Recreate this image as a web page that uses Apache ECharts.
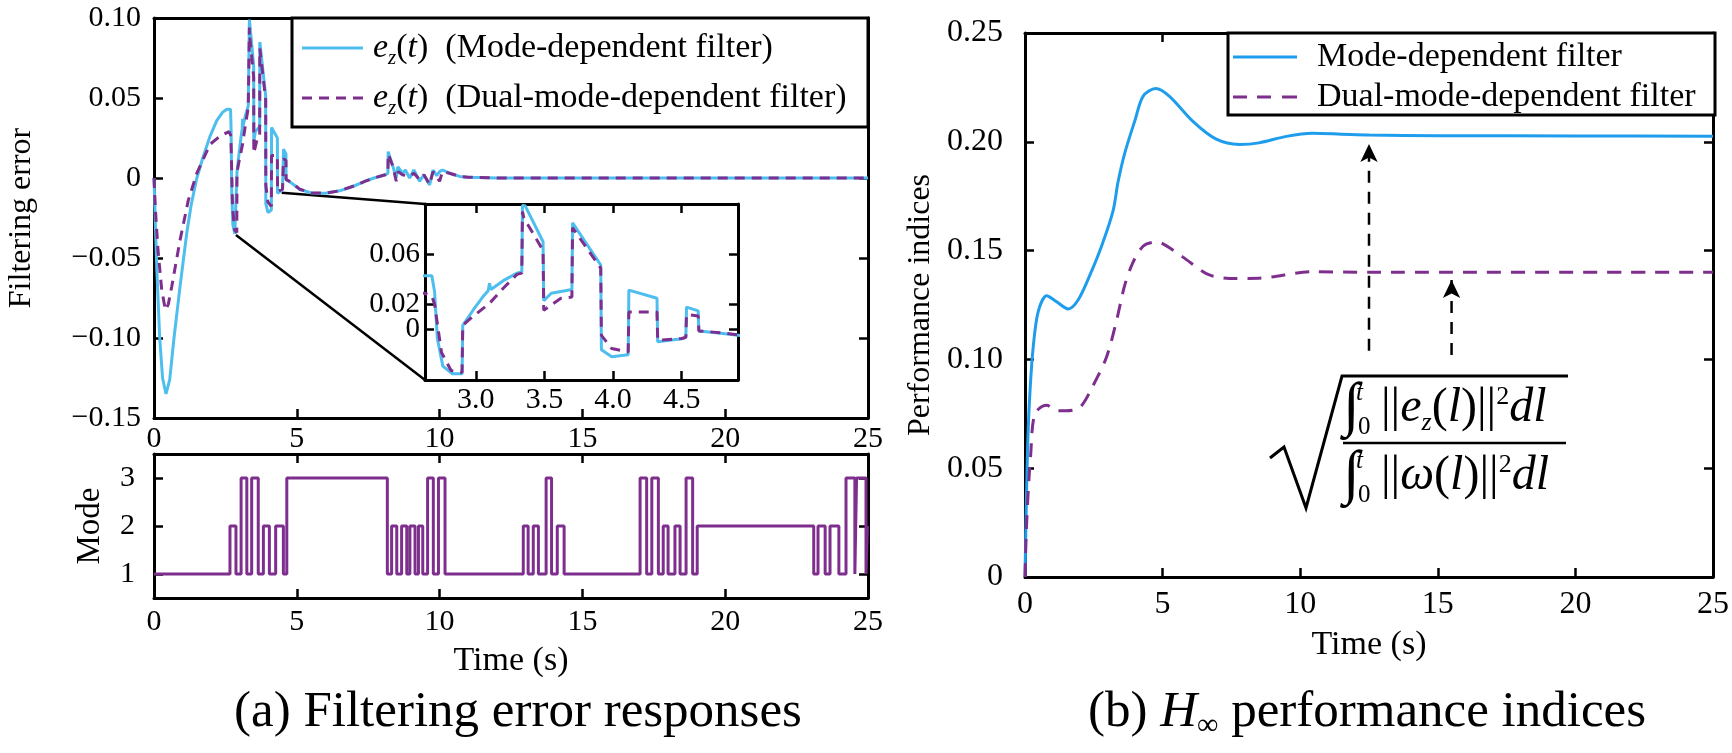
<!DOCTYPE html>
<html><head><meta charset="utf-8">
<script src="https://cdn.jsdelivr.net/npm/echarts@6/dist/echarts.min.js"></script>
<style>html,body{margin:0;padding:0;background:#fff}#c{width:1732px;height:753px}</style>
</head><body><div id="c"></div>
<script>
// ---------------- data ----------------
const timeTicks = [0, 5, 10, 15, 20, 25];
const modeTicks = [1, 2, 3];
const insetTicksX = [3.0, 3.5, 4.0, 4.5];
const insetTicksY = [0, 0.02, 0.06];

// e_z(t) with mode-dependent filter  [t, e]
const modeDepError = [[0,0],[0.05,-0.03],[0.1,-0.058],[0.2,-0.1],[0.3,-0.125],[0.42,-0.135],[0.55,-0.126],[0.7,-0.1],[0.91,-0.068],[1.15,-0.034],[1.3,-0.017],[1.5,0],[1.7,0.012],[1.96,0.026],[2.2,0.036],[2.4,0.041],[2.55,0.043],[2.68,0.043],[2.7,0.03],[2.72,-0.007],[2.76,-0.029],[2.83,-0.035],[2.9,-0.035],[2.905,0.0035],[2.98,0.0155],[3.05,0.026],[3.09,0.031],[3.1,0.037],[3.11,0.032],[3.2,0.039],[3.3,0.045],[3.335,0.046],[3.34,0.099],[3.36,0.0985],[3.49,0.070],[3.495,0.023],[3.55,0.029],[3.70,0.032],[3.705,0.085],[3.91,0.0515],[3.915,-0.016],[3.99,-0.0215],[4.11,-0.02],[4.115,0.0315],[4.32,0.025],[4.325,-0.0096],[4.5,-0.0072],[4.53,-0.006],[4.535,0.018],[4.62,0.015],[4.625,-0.001],[4.8,-0.003],[5.1,-0.007],[5.5,-0.0093],[6.0,-0.0095],[6.5,-0.008],[7.0,-0.005],[7.4,-0.002],[7.7,0.0],[8.1,0.002],[8.19,0.003],[8.2,0.0165],[8.37,0.007],[8.48,0.0],[8.54,0.007],[8.7,0.003],[8.8,0.005],[8.95,0.0],[9.1,0.005],[9.3,-0.002],[9.45,0.002],[9.65,-0.0044],[9.77,0.005],[9.9,0.0015],[10.0,0.004],[10.1,0.005],[10.35,0.003],[10.7,0.001],[11,0.0005],[12,0],[25,0]];

// e_z(t) with dual-mode-dependent filter  [t, e]
const dualModeError = [[0,0],[0.05,-0.02],[0.14,-0.045],[0.27,-0.07],[0.4,-0.0825],[0.5,-0.079],[0.62,-0.068],[0.91,-0.039],[1.2,-0.014],[1.5,0.003],[1.96,0.021],[2.3,0.026],[2.625,0.029],[2.68,0.027],[2.7,0.02],[2.75,-0.018],[2.82,-0.0325],[2.9,-0.034],[2.905,0.0035],[2.96,0.0088],[3.1,0.021],[3.2,0.033],[3.3,0.044],[3.335,0.045],[3.34,0.094],[3.35,0.089],[3.49,0.063],[3.495,0.0155],[3.62,0.025],[3.70,0.026],[3.705,0.081],[3.91,0.049],[3.915,-0.0045],[3.99,-0.015],[4.11,-0.0177],[4.115,0.014],[4.32,0.014],[4.325,-0.0085],[4.5,-0.007],[4.53,-0.006],[4.535,0.012],[4.62,0.011],[4.625,-0.001],[4.8,-0.0025],[5.1,-0.007],[5.5,-0.0093],[6.0,-0.0095],[6.5,-0.008],[7.0,-0.005],[7.4,-0.002],[7.7,0.0],[8.1,0.002],[8.19,0.003],[8.2,0.015],[8.37,0.007],[8.48,-0.002],[8.55,0.004],[8.7,0.002],[8.95,0.001],[9.1,0.003],[9.3,-0.001],[9.45,0.002],[9.65,-0.004],[9.77,0.004],[9.9,0.001],[10.0,-0.002],[10.1,0.004],[10.35,0.003],[10.7,0.001],[11,0.0005],[12,0],[25,0]];

// Markov mode signal: [switch time, mode]
const modeSignal = [[0,1],[2.66,2],[2.87,1],[3.05,3],[3.25,1],[3.42,3],[3.65,1],[3.83,2],[4.04,1],[4.26,2],[4.53,1],[4.65,3],[8.17,1],[8.32,2],[8.5,1],[8.67,2],[8.85,1],[8.96,2],[9.14,1],[9.26,2],[9.41,1],[9.58,3],[9.78,1],[9.96,3],[10.19,1],[12.93,2],[13.1,1],[13.28,2],[13.46,1],[13.73,3],[13.92,1],[14.12,2],[14.36,1],[17.02,3],[17.25,1],[17.43,3],[17.66,1],[17.83,2],[18.0,1],[18.24,2],[18.42,1],[18.63,3],[18.86,1],[19.02,2],[23.1,1],[23.25,2],[23.5,1],[23.67,2],[23.98,1],[24.23,3],[24.54,1],[24.6,3],[24.93,1],[24.98,2],[25,2]];

// H-infinity performance indices [t, value]
const modeDepIndex = [[0,0],[0.05,0.035],[0.1,0.062],[0.18,0.085],[0.3,0.106],[0.48,0.122],[0.79,0.1293],[1.15,0.1265],[1.57,0.1232],[1.93,0.1273],[2.36,0.1388],[2.78,0.152],[3.2,0.1683],[3.38,0.1815],[3.62,0.1946],[4.0,0.21],[4.29,0.2209],[4.75,0.2245],[5.25,0.2209],[6.1,0.2094],[6.95,0.2012],[7.79,0.1988],[8.5,0.1995],[9.5,0.2025],[10.45,0.2039],[11.5,0.2035],[12.5,0.2031],[15,0.2028],[20,0.2027],[25,0.2026]];
const dualModeIndex = [[0,0],[0.05,0.022],[0.12,0.04],[0.2,0.055],[0.36,0.075],[0.79,0.0789],[1.15,0.0765],[1.51,0.0764],[2.0,0.078],[2.47,0.0879],[2.96,0.101],[3.32,0.1175],[3.62,0.1339],[3.92,0.1445],[4.29,0.152],[4.7,0.1538],[5.0,0.1532],[5.74,0.147],[6.7,0.1388],[7.67,0.1372],[8.5,0.1373],[10.45,0.1403],[12.5,0.140],[25,0.140]];

// annotation lines (data units of their own plots)
const zoomConnectors = [[[2.87,-0.0356],[9.49,-0.12625]], [[4.47,-0.0092],[9.49,-0.01625]]];
const arrowGuides = [[[12.5,0.104],[12.5,0.199]], [[15.5,0.102],[15.5,0.1365]]];

// ---------------- chart ----------------
const FONT = '"Liberation Serif", "Times New Roman", Times, serif';
const BLUE_A = '#4DBEEE', PURPLE = '#7E2F8E', BLUE_B = '#1F9DED';
function fmt(v, d) { if (Math.abs(v) < 1e-9) return '0'; return (v < 0 ? '\u2212' : '') + Math.abs(v).toFixed(d); }

function axis(o) {
  const a = {
    type: 'value', gridIndex: o.grid, position: o.pos, min: o.min, max: o.max,
    axisLine: { show: o.line !== false, onZero: false, lineStyle: { color: '#000', width: 3 } },
    axisTick: { show: o.tick !== false, inside: true, length: 9, lineStyle: { color: '#000', width: 2.5 } },
    axisLabel: { show: !!o.label, color: '#000', fontFamily: FONT, fontSize: o.fs || 30, margin: o.margin || 8,
                 formatter: o.formatter, hideOverlap: false, showMinLabel: true, showMaxLabel: true },
    splitLine: { show: false }
  };
  if (o.interval !== undefined) a.interval = o.interval;
  if (o.custom) { a.axisTick.customValues = o.custom; a.axisLabel.customValues = o.labels || o.custom; }
  if (o.name) {
    a.name = o.name; a.nameLocation = 'middle'; a.nameGap = o.nameGap;
    a.nameTextStyle = { color: '#000', fontFamily: FONT, fontSize: o.nameSize || 32 };
  }
  return a;
}

const xAxes = [
  axis({grid:0,pos:'bottom',min:0,max:25,interval:5,label:true,fs:30,margin:6,formatter:v=>String(v)}),
  axis({grid:0,pos:'top',min:0,max:25,interval:5}),
  axis({grid:1,pos:'bottom',min:0,max:25,interval:5,label:true,fs:30,margin:9,formatter:v=>String(v),name:'Time (s)',nameGap:46,nameSize:34}),
  axis({grid:1,pos:'top',min:0,max:25,interval:5}),
  axis({grid:2,pos:'bottom',min:0,max:25,interval:5,label:true,fs:32,margin:12,formatter:v=>String(v),name:'Time (s)',nameGap:51,nameSize:34}),
  axis({grid:2,pos:'top',min:0,max:25,interval:5}),
  axis({grid:3,pos:'bottom',min:2.63,max:4.91,custom:insetTicksX,label:true,fs:30,margin:5,formatter:v=>v.toFixed(1)}),
  axis({grid:3,pos:'top',min:2.63,max:4.91,custom:insetTicksX})
];
const yAxes = [
  axis({grid:0,pos:'left',min:-0.15,max:0.10,interval:0.05,label:true,fs:30,margin:13,formatter:v=>fmt(v,2),name:'Filtering error',nameGap:116}),
  axis({grid:0,pos:'right',min:-0.15,max:0.10,interval:0.05}),
  axis({grid:1,pos:'left',min:0.5,max:3.5,custom:modeTicks,label:true,fs:30,margin:19,formatter:v=>String(Math.round(v)),name:'Mode',nameGap:47,nameSize:33}),
  axis({grid:1,pos:'right',min:0.5,max:3.5,custom:modeTicks}),
  axis({grid:2,pos:'left',min:0,max:0.25,interval:0.05,label:true,fs:32,margin:22,formatter:v=>fmt(v,2),name:'Performance indices',nameGap:88}),
  axis({grid:2,pos:'right',min:0,max:0.25,interval:0.05}),
  axis({grid:3,pos:'left',min:-0.04,max:0.10,custom:insetTicksY,labels:[insetTicksY[0],insetTicksY[2]],label:true,fs:29,margin:5,formatter:v=>fmt(v,2)}),
  axis({grid:3,pos:'right',min:-0.04,max:0.10,custom:insetTicksY}),
  // second label layer for the inset so that the tightly packed 0.02 label is kept
  axis({grid:3,pos:'left',min:-0.04,max:0.10,custom:[insetTicksY[1]],line:false,tick:false,label:true,fs:29,margin:5,formatter:v=>fmt(v,2)})
];

function lineSeries(name, xi, data, color, width, dash, z) {
  return { name, type: 'line', xAxisIndex: xi, yAxisIndex: xi, data, symbol: 'none', showSymbol: false,
           lineStyle: { color, width, type: dash || 'solid' }, itemStyle: { color }, z: z || 2, silent: true, animation: false };
}
function arrowSeries(seg) {
  return { type: 'line', xAxisIndex: 4, yAxisIndex: 4, symbol: 'arrow', showSymbol: true, silent: true,
           data: [{ value: seg[0], symbol: 'none' }, { value: seg[1], symbol: 'arrow', symbolSize: [13, 18] }],
           lineStyle: { color: '#000', width: 2.5, type: [12, 9] }, itemStyle: { color: '#000' }, z: 5 };
}

const series = [
  lineSeries('e_md', 0, modeDepError, BLUE_A, 3, null, 3),
  lineSeries('e_dual', 0, dualModeError, PURPLE, 3, [10, 7], 4),
  lineSeries('conn1', 0, zoomConnectors[0], '#000', 2.5, null, 2),
  lineSeries('conn2', 0, zoomConnectors[1], '#000', 2.5, null, 2),
  lineSeries('e_md', 6, modeDepError, BLUE_A, 3, null, 6),
  lineSeries('e_dual', 6, dualModeError, PURPLE, 3, [10, 7], 7),
  Object.assign(lineSeries('mode', 2, modeSignal, PURPLE, 3, null, 3), { step: 'end' }),
  Object.assign(lineSeries('Mode-dependent filter', 4, modeDepIndex, BLUE_B, 3, null, 3), { smooth: 0.3 }),
  Object.assign(lineSeries('Dual-mode-dependent filter', 4, dualModeIndex, PURPLE, 3, [14, 10], 4), { smooth: 0.3 }),
  arrowSeries(arrowGuides[0]),
  arrowSeries(arrowGuides[1])
];

const richLeft = {
  g: { width: 5 },
  i: { fontFamily: FONT, fontStyle: 'italic', fontSize: 34, lineHeight: 50, color: '#000' },
  n: { fontFamily: FONT, fontSize: 34, lineHeight: 50, color: '#000' },
  s: { fontFamily: FONT, fontStyle: 'italic', fontSize: 21, color: '#000', padding: [20, 0, 0, 0] }
};

const legends = [
  { data: [
      { name: 'e_md', icon: 'path://M0,0H61V3H0Z' },
      { name: 'e_dual', icon: 'path://M0,0H10V3H0Z M17,0H27V3H17Z M34,0H44V3H34Z M51,0H61V3H51Z' }
    ],
    orient: 'vertical', left: 302, top: 23, itemWidth: 61, itemHeight: 3, itemGap: 0,
    padding: 0, selectedMode: false, z: 10, itemStyle: { borderWidth: 0 },
    formatter: n => n === 'e_md'
      ? '{g| }{i|e}{s|z}{n|(}{i|t}{n|)  (Mode-dependent filter)}'
      : '{g| }{i|e}{s|z}{n|(}{i|t}{n|)  (Dual-mode-dependent filter)}',
    textStyle: { fontFamily: FONT, fontSize: 34, lineHeight: 50, color: '#000', rich: richLeft } },
  { data: [
      { name: 'Mode-dependent filter', icon: 'path://M0,0H64V3H0Z' },
      { name: 'Dual-mode-dependent filter', icon: 'path://M0,0H14V3H0Z M24,0H38V3H24Z M49,0H64V3H49Z' }
    ],
    orient: 'vertical', left: 1233, top: 37,
    itemWidth: 64, itemHeight: 3, itemGap: 0, padding: 0, selectedMode: false, z: 10, itemStyle: { borderWidth: 0 },
    formatter: n => '{g| }' + n,
    textStyle: { fontFamily: FONT, fontSize: 34, lineHeight: 40, color: '#000', rich: { g: { width: 15 } } } }
];

// formula, boxes and captions (annotation graphics)
function txt(x, y, text, size, italic, align, rich) {
  return { type: 'text', x, y, z: 20, silent: true,
    style: { text, fill: '#000', font: (italic ? 'italic ' : '') + size + 'px ' + FONT,
             textAlign: align || 'left', textVerticalAlign: 'middle', align: align || 'left', verticalAlign: 'middle', rich } };
}
const fRich = {
  n: { fontFamily: FONT, fontSize: 48, lineHeight: 58, color: '#000' },
  i: { fontFamily: FONT, fontStyle: 'italic', fontSize: 48, lineHeight: 58, color: '#000' },
  sb: { fontFamily: FONT, fontStyle: 'italic', fontSize: 26, color: '#000', padding: [30, 0, 0, 0] },
  sp: { fontFamily: FONT, fontSize: 26, color: '#000', padding: [0, 0, 22, 0] }
};
const numY = 408, denY = 476;
const graphics = [
  { type: 'rect', z: 9, silent: true, shape: { x: 292, y: 18, width: 576, height: 109 }, style: { fill: '#fff', stroke: '#000', lineWidth: 3 } },
  { type: 'rect', z: 9, silent: true, shape: { x: 1228, y: 33, width: 487, height: 82 }, style: { fill: '#fff', stroke: '#000', lineWidth: 3 } },
  // radical and fraction bar
  { type: 'polyline', z: 20, silent: true, shape: { points: [[1270,458],[1284,447],[1306,508],[1342,376],[1568,376]] }, style: { stroke: '#000', lineWidth: 3, fill: null } },
  { type: 'line', z: 20, silent: true, shape: { x1: 1343, y1: 443, x2: 1566, y2: 443 }, style: { stroke: '#000', lineWidth: 2.5 } },
  txt(1343, numY, '\u222B', 60, false),
  txt(1356, numY - 15, 't', 25, true),
  txt(1358, numY + 19, '0', 25, false),
  txt(1381, numY, '{n|||}{i|e}{sb|z}{n|(}{i|l}{n|)||}{sp|2}{i|dl}', 48, false, 'left', fRich),
  txt(1343, denY, '\u222B', 60, false),
  txt(1356, denY - 15, 't', 25, true),
  txt(1358, denY + 19, '0', 25, false),
  txt(1381, denY, '{n|||}{i|\u03C9}{n|(}{i|l}{n|)||}{sp|2}{i|dl}', 48, false, 'left', fRich),
  // sub-figure captions
  txt(518, 713, '(a) Filtering error responses', 51, false, 'center'),
  txt(1367, 713, '(b) {i|H}{s|\u221E} performance indices', 51, false, 'center', {
    i: { fontFamily: FONT, fontStyle: 'italic', fontSize: 51, color: '#000' },
    s: { fontFamily: FONT, fontSize: 30, color: '#000', padding: [26, 0, 0, 0] }
  })
];

const option = {
  animation: false,
  backgroundColor: '#fff',
  textStyle: { fontFamily: FONT },
  grid: [
    { left: 154, top: 18, width: 714, height: 400 },
    { left: 154, top: 454, width: 714, height: 144 },
    { left: 1025, top: 33, width: 690, height: 544 },
    { left: 425, top: 204, width: 313, height: 176, show: true, backgroundColor: '#fff', borderWidth: 0 }
  ],
  xAxis: xAxes,
  yAxis: yAxes,
  legend: legends,
  series,
  graphic: graphics
};
const chart = echarts.init(document.getElementById('c'));
chart.setOption(option);
</script></body></html>
